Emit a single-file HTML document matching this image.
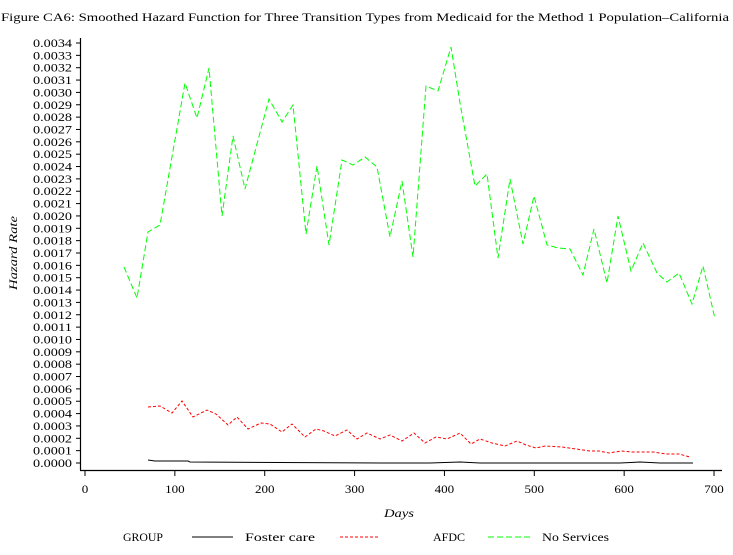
<!DOCTYPE html>
<html><head><style>
html,body{margin:0;padding:0;background:#fff;}
svg text{font-family:"Liberation Serif",serif;font-size:12px;fill:#000;}
</style></head><body>
<svg width="733" height="550" xmlns="http://www.w3.org/2000/svg">
<text x="1" y="21" font-size="12" textLength="728" lengthAdjust="spacingAndGlyphs">Figure CA6:  Smoothed Hazard Function for Three Transition Types from Medicaid for the Method 1 Population–California</text>
<g stroke="#000" stroke-width="1.2" fill="none">
<line x1="80.5" y1="38" x2="80.5" y2="470"/>
<line x1="80" y1="470.5" x2="722" y2="470.5"/>
</g>
<g id="yt" stroke="#000"></g>
<g id="yl"></g>
<g id="xt" stroke="#000"></g>
<g id="xl" text-anchor="middle"></g>
<text x="0" y="0" font-style="italic" font-size="12" text-anchor="middle" textLength="74" lengthAdjust="spacingAndGlyphs" transform="translate(17,253) rotate(-90)">Hazard Rate</text>
<text x="399" y="517" font-style="italic" font-size="12" text-anchor="middle" textLength="30" lengthAdjust="spacingAndGlyphs">Days</text>
<polyline fill="none" stroke="#000" stroke-width="1" points="148,460 155,461 188,461 190,462 385,463 430,463 460,462 480,463 620,463 640,462 660,463 693,463"/>
<polyline fill="none" stroke="#f00" stroke-width="1" stroke-dasharray="3,2" points="148,407 160,406 172,413 182,401 193,417 207,410 216,414 228,425 237,417 248,429 261,423 270,424 282,432 292,424 305,437 316,429 324,431 335,436 347,430 357,439 367,433 380,439 390,435 402,441 414,433 425,443 436,437 447,439 460,433 471,444 480,439 492,443 505,446 517,441 526,445 536,448 545,446 562,447 569,448 590,451 599,451 609,453 621,451 632,452 645,452 653,452 666,454 679,454 690,457"/>
<polyline fill="none" stroke="#0f0" stroke-width="1" stroke-dasharray="6,3" points="124,267 137,298 148,232 160,225 185,83 197,118 209,68 222,216 233,136 245,189 269,99 282,122 293,105 306,234 317,166 329,245 342,160 353,165 365,157 377,167 390,237 402,181 413,257 426,86 438,91 451,47 460,103 475,186 487,174 498,258 510,179 523,244 534,196 547,245 558,248 570,249 583,275 594,229 607,283 618,216 631,271 643,243 657,273 667,282 679,273 692,304 703,266 715,319"/>
<text x="123" y="541" textLength="40" lengthAdjust="spacingAndGlyphs">GROUP</text>
<line x1="192" y1="537" x2="233" y2="537" stroke="#000"/>
<text x="245" y="541" textLength="70" lengthAdjust="spacingAndGlyphs">Foster care</text>
<line x1="340" y1="537" x2="380" y2="537" stroke="#f00" stroke-dasharray="3,2"/>
<text x="433" y="541" textLength="32" lengthAdjust="spacingAndGlyphs">AFDC</text>
<line x1="488" y1="537" x2="530" y2="537" stroke="#0f0" stroke-dasharray="6,3"/>
<text x="542" y="541" textLength="67" lengthAdjust="spacingAndGlyphs">No Services</text>
</svg>
<script>
var ns="http://www.w3.org/2000/svg";
function el(p,t,a,tx){var e=document.createElementNS(ns,t);for(var k in a)e.setAttribute(k,a[k]);if(tx)e.textContent=tx;document.getElementById(p).appendChild(e);}
for(var i=0;i<=34;i++){var y=463-i*12.353;
el("yt","line",{x1:76,x2:80,y1:y,y2:y});
el("yl","text",{x:33,y:y+4,textLength:39,lengthAdjust:"spacingAndGlyphs"},(i/10000).toFixed(4));}
for(var j=0;j<=7;j++){var x=85+j*89.86;
el("xt","line",{x1:x,x2:x,y1:471,y2:476});
var s=String(j*100);
el("xl","text",{x:x,y:493,textLength:(s.length*6.5),lengthAdjust:"spacingAndGlyphs"},s);}
</script>
</body></html>
